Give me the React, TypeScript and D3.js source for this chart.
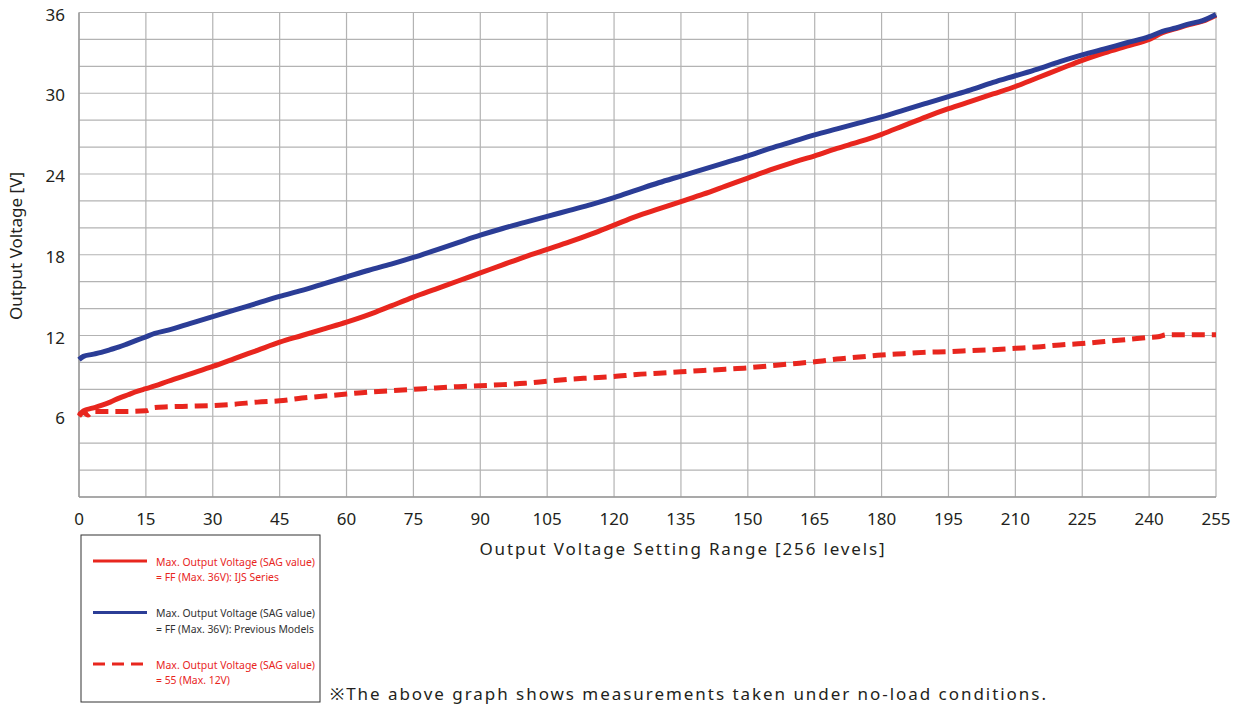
import * as d3 from "d3";

const xLevels = [0, 1, 3, 5, 7, 9, 11, 13, 15, 17, 20, 25, 30, 35, 40, 45, 50, 55, 60, 65, 70, 75, 80, 85, 90, 95, 100, 105, 110, 115, 120, 125, 130, 135, 140, 145, 150, 155, 160, 165, 170, 175, 180, 185, 190, 195, 200, 205, 210, 215, 220, 225, 230, 235, 240, 243, 246, 249, 252, 255];

const prevModels = [10.2, 10.45, 10.6, 10.75, 10.95, 11.15, 11.4, 11.65, 11.9, 12.15, 12.4, 12.9, 13.4, 13.9, 14.4, 14.9, 15.35, 15.85, 16.35, 16.85, 17.3, 17.8, 18.35, 18.9, 19.45, 19.95, 20.4, 20.85, 21.3, 21.75, 22.25, 22.8, 23.35, 23.85, 24.35, 24.85, 25.35, 25.9, 26.4, 26.9, 27.35, 27.8, 28.25, 28.75, 29.25, 29.75, 30.25, 30.8, 31.3, 31.8, 32.35, 32.85, 33.3, 33.75, 34.2, 34.6, 34.85, 35.15, 35.4, 35.85];

const ijsSeries = [6.1, 6.4, 6.6, 6.8, 7.05, 7.35, 7.6, 7.85, 8.05, 8.25, 8.6, 9.15, 9.7, 10.3, 10.9, 11.5, 12.0, 12.5, 13.0, 13.55, 14.2, 14.85, 15.45, 16.05, 16.65, 17.25, 17.85, 18.4, 18.95, 19.55, 20.2, 20.85, 21.4, 21.95, 22.5, 23.1, 23.7, 24.3, 24.85, 25.35, 25.9, 26.4, 26.95, 27.6, 28.25, 28.85, 29.4, 29.95, 30.5, 31.15, 31.8, 32.45, 33.0, 33.5, 34.0, 34.5, 34.8, 35.1, 35.35, 35.8];

const max12Levels = [0, 1, 2, 3, 5, 10, 15, 17, 20, 25, 30, 35, 40, 45, 50, 55, 60, 65, 70, 75, 80, 85, 90, 95, 100, 105, 110, 115, 120, 125, 130, 135, 140, 145, 150, 155, 160, 165, 170, 175, 180, 185, 190, 195, 200, 205, 210, 215, 220, 225, 230, 235, 240, 242, 244, 250, 255];
const max12Values = [6.0, 6.3, 6.1, 6.35, 6.35, 6.35, 6.4, 6.65, 6.7, 6.75, 6.8, 6.9, 7.05, 7.15, 7.35, 7.5, 7.65, 7.8, 7.9, 8.0, 8.1, 8.2, 8.27, 8.35, 8.45, 8.6, 8.75, 8.85, 8.95, 9.1, 9.2, 9.3, 9.4, 9.5, 9.6, 9.75, 9.9, 10.05, 10.25, 10.4, 10.55, 10.65, 10.75, 10.8, 10.88, 10.95, 11.05, 11.15, 11.3, 11.4, 11.55, 11.7, 11.85, 11.9, 12.05, 12.05, 12.05];

const xTicks = d3.range(0, 256, 15);
const yLabelTicks = [6, 12, 18, 24, 30, 36];
const yGridTicks = d3.range(0, 37, 2);

const legendItems = [
  { lines: ["Max. Output Voltage (SAG value)", "= FF (Max. 36V): IJS Series"], widths: [159, 123], color: "#e8261e", text: "#e8261e", dash: "" },
  { lines: ["Max. Output Voltage (SAG value)", "= FF (Max. 36V): Previous Models"], widths: [159, 158], color: "#2b3d96", text: "#333333", dash: "" },
  { lines: ["Max. Output Voltage (SAG value)", "= 55 (Max. 12V)"], widths: [159, 74], color: "#e8261e", text: "#e8261e", dash: "12 7" },
];

const RED = "#e8261e";
const BLUE = "#2b3d96";
const GRID = "#b3b3b3";
const FONT = "'Noto Sans', 'Open Sans', sans-serif";

export default function App() {
  const x = d3.scaleLinear().domain([0, 255]).range([79, 1216]);
  const y = d3.scaleLinear().domain([0, 36]).range([497, 12.5]);

  const line = d3
    .line<[number, number]>()
    .x((d) => x(d[0]))
    .y((d) => y(d[1]))
    .curve(d3.curveMonotoneX);

  const blueData = xLevels.map((l, i) => [l, prevModels[i]] as [number, number]);
  const redData = xLevels.map((l, i) => [l, ijsSeries[i]] as [number, number]);
  const dashData = max12Levels.map((l, i) => [l, max12Values[i]] as [number, number]);

  return (
    <svg
      width={1235}
      height={704}
      style={{ position: "absolute", left: 0, top: 0, background: "#fff" }}
      fontFamily={FONT}
    >
      <rect width={1235} height={704} fill="#fff" />
      {/* grid */}
      {yGridTicks.map((t) => (
        <line key={"h" + t} x1={x(0)} x2={x(255)} y1={y(t)} y2={y(t)} stroke={GRID} strokeWidth={1.2} />
      ))}
      {xTicks.map((t) => (
        <line key={"v" + t} x1={x(t)} x2={x(t)} y1={y(0)} y2={y(36)} stroke={GRID} strokeWidth={1.2} />
      ))}
      <line x1={x(0)} x2={x(0)} y1={y(0)} y2={y(36)} stroke="#999" strokeWidth={1.4} />
      <line x1={x(0)} x2={x(255)} y1={y(0)} y2={y(0)} stroke="#999" strokeWidth={1.4} />

      {/* series */}
      <path d={line(dashData) || ""} fill="none" stroke={RED} strokeWidth={5} strokeDasharray="13 7" />
      <path d={line(redData) || ""} fill="none" stroke={RED} strokeWidth={5} />
      <path d={line(blueData) || ""} fill="none" stroke={BLUE} strokeWidth={5} />

      {/* y tick labels */}
      {yLabelTicks.map((t) => (
        <text key={"yl" + t} x={65} y={y(t) + 8} textAnchor="end" fontSize={17} fill="#231f20">
          {t}
        </text>
      ))}
      {/* x tick labels */}
      {xTicks.map((t) => (
        <text key={"xl" + t} x={x(t)} y={525} textAnchor="middle" fontSize={17} fill="#231f20">
          {t}
        </text>
      ))}

      <text x={682} y={555} textAnchor="middle" fontSize={17} fill="#231f20" textLength={405} lengthAdjust="spacing">
        Output Voltage Setting Range [256 levels]
      </text>
      <text
        transform="translate(22,246) rotate(-90)"
        textAnchor="middle"
        fontSize={16}
        fill="#231f20"
        textLength={148}
        lengthAdjust="spacingAndGlyphs"
      >
        Output Voltage [V]
      </text>

      {/* legend */}
      <rect x={81} y={535} width={239} height={167} fill="#fff" stroke="#333" strokeWidth={1} />
      {legendItems.map((item, i) => {
        const cy = 561 + i * 51.5;
        return (
          <g key={"lg" + i}>
            <line x1={93} x2={147} y1={cy} y2={cy} stroke={item.color} strokeWidth={3} strokeDasharray={item.dash} />
            {item.lines.map((ln, j) => (
              <text
                key={j}
                x={156}
                y={cy + 4.5 + j * 15.5}
                fontSize={11.5}
                fill={item.text}
                textLength={item.widths[j]}
                lengthAdjust="spacingAndGlyphs"
              >
                {ln}
              </text>
            ))}
          </g>
        );
      })}

      <text x={330} y={700} fontSize={17} fill="#231f20" textLength={716} lengthAdjust="spacing">
        ※The above graph shows measurements taken under no-load conditions.
      </text>
    </svg>
  );
}
